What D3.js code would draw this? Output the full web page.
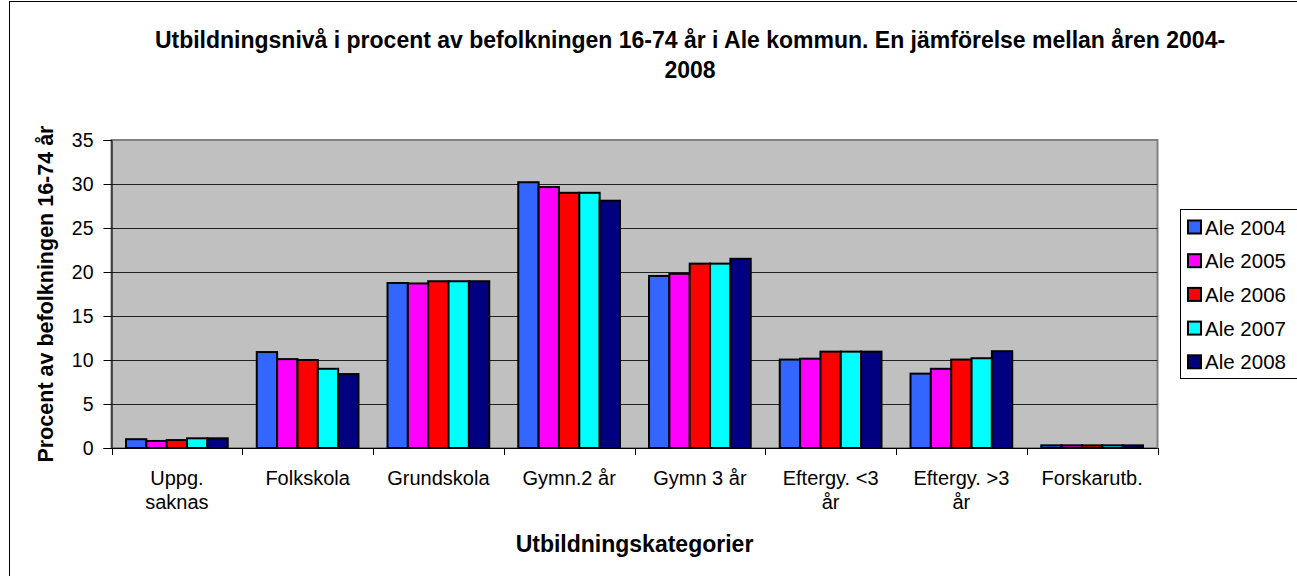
<!DOCTYPE html>
<meta charset="utf-8">
<style>
body{margin:0;background:#fff;}
svg text{font-family:"Liberation Sans", Arial, sans-serif;fill:#000;}
</style>
<svg id="chart" width="1297" height="576"></svg>
<script src="https://d3js.org/d3.v7.min.js"></script>
<script>
// data
const categories = [["Uppg.", "saknas"], ["Folkskola"], ["Grundskola"], ["Gymn.2 år"],
  ["Gymn 3 år"], ["Eftergy. <3", "år"], ["Eftergy. >3", "år"], ["Forskarutb."]]
const seriesNames = ["Ale 2004", "Ale 2005", "Ale 2006", "Ale 2007", "Ale 2008"]
const ale2004 = [1.0, 10.9, 18.75, 30.2, 19.55, 10.05, 8.45, 0.3]
const ale2005 = [0.8, 10.1, 18.7, 29.65, 19.8, 10.15, 9.0, 0.3]
const ale2006 = [0.9, 10.0, 18.95, 29.0, 20.95, 10.95, 10.05, 0.3]
const ale2007 = [1.1, 9.0, 18.95, 29.0, 20.95, 10.95, 10.2, 0.3]
const ale2008 = [1.1, 8.4, 18.95, 28.1, 21.5, 10.95, 11.0, 0.3]
const yTicks = [0, 5, 10, 15, 20, 25, 30, 35]
const colors = ["#3366ff", "#ff00ff", "#ff0000", "#00ffff", "#000080"]

const series = [ale2004, ale2005, ale2006, ale2007, ale2008]

const svg = d3.select('#chart')

// outer chart border
svg.append('rect')
  .attr('x', 9.5).attr('y', 1.5).attr('width', 1300).attr('height', 600)
  .attr('fill', '#fff').attr('stroke', '#000')

const plot = {left: 111.5, right: 1157.5, top: 140, bottom: 448}

const x0 = d3.scaleBand().domain(d3.range(categories.length))
  .range([plot.left, plot.right]).padding(0)
const bw = x0.bandwidth()
const x1 = d3.scaleBand().domain(d3.range(series.length))
  .range([bw * 0.111, bw * 0.889]).padding(0)
const y = d3.scaleLinear().domain([0, 35]).range([plot.bottom, plot.top])

// plot background
svg.append('rect')
  .attr('x', plot.left).attr('y', plot.top)
  .attr('width', plot.right - plot.left).attr('height', plot.bottom - plot.top)
  .attr('fill', '#c0c0c0').attr('stroke', '#808080').attr('stroke-width', 2)

// gridlines
svg.append('g').selectAll('line').data(yTicks.slice(1, -1)).join('line')
  .attr('x1', plot.left).attr('x2', plot.right)
  .attr('y1', d => Math.round(y(d)) + 0.5).attr('y2', d => Math.round(y(d)) + 0.5)
  .attr('stroke', '#222').attr('stroke-width', 1)

// bars
const groups = svg.append('g').selectAll('g').data(categories).join('g')
  .attr('transform', (d, i) => `translate(${x0(i)},0)`)
groups.selectAll('rect')
  .data((d, i) => series.map((s, k) => ({k: k, v: s[i]})))
  .join('rect')
  .attr('x', d => x1(d.k))
  .attr('width', x1.bandwidth())
  .attr('y', d => y(d.v))
  .attr('height', d => y(0) - y(d.v))
  .attr('fill', d => colors[d.k])
  .attr('stroke', '#000').attr('stroke-width', 2)

// y axis
const yAxis = svg.append('g')
  .attr('transform', `translate(${plot.left},0)`)
  .call(d3.axisLeft(y).tickValues(yTicks).tickSize(8).tickPadding(10))
yAxis.select('.domain').attr('stroke', '#000')
yAxis.selectAll('text').style('font-size', '19.5px').attr('fill', '#000')

// x axis: ticks at band boundaries
const xAxisG = svg.append('g')
xAxisG.append('line')
  .attr('x1', plot.left).attr('x2', plot.right)
  .attr('y1', plot.bottom + 0.5).attr('y2', plot.bottom + 0.5)
  .attr('stroke', '#000')
xAxisG.selectAll('line.tick').data(d3.range(categories.length + 1)).join('line')
  .attr('class', 'tick')
  .attr('x1', d => Math.round(plot.left + d * bw) + 0.5)
  .attr('x2', d => Math.round(plot.left + d * bw) + 0.5)
  .attr('y1', plot.bottom).attr('y2', plot.bottom + 7)
  .attr('stroke', '#000')
const labels = xAxisG.selectAll('text').data(categories).join('text')
  .attr('text-anchor', 'middle')
  .attr('y', 485)
  .style('font-size', '20px')
labels.selectAll('tspan').data((d, i) => d.map(t => ({t: t, i: i}))).join('tspan')
  .attr('x', d => x0(d.i) + bw / 2)
  .attr('dy', (d, j) => j === 0 ? 0 : 24)
  .text(d => d.t)

// titles
const title = svg.append('text')
  .attr('text-anchor', 'middle')
  .style('font-size', '23px').style('font-weight', 'bold')
title.append('tspan').attr('x', 690).attr('y', 48)
  .text('Utbildningsnivå i procent av befolkningen 16-74 år i Ale kommun. En jämförelse mellan åren 2004-')
title.append('tspan').attr('x', 690).attr('y', 78).text('2008')

svg.append('text')
  .attr('text-anchor', 'middle')
  .attr('x', (plot.left + plot.right) / 2).attr('y', 552)
  .style('font-size', '23px').style('font-weight', 'bold')
  .text('Utbildningskategorier')

svg.append('text')
  .attr('text-anchor', 'middle')
  .attr('transform', `translate(53,${(plot.top + plot.bottom) / 2}) rotate(-90)`)
  .style('font-size', '21.5px').style('font-weight', 'bold')
  .text('Procent av befolkningen 16-74 år')

// legend
const legend = svg.append('g')
legend.append('rect')
  .attr('x', 1180.5).attr('y', 209.5).attr('width', 130).attr('height', 169)
  .attr('fill', '#fff').attr('stroke', '#000')
const items = legend.selectAll('g').data(seriesNames).join('g')
  .attr('transform', (d, i) => `translate(1188,${227 + i * 33.7})`)
items.append('rect')
  .attr('x', 0).attr('y', -6.5).attr('width', 13).attr('height', 13)
  .attr('fill', (d, i) => colors[i]).attr('stroke', '#000').attr('stroke-width', 2)
items.append('text')
  .attr('x', 17).attr('y', 7.5)
  .style('font-size', '20.5px')
  .text(d => d)
</script>
